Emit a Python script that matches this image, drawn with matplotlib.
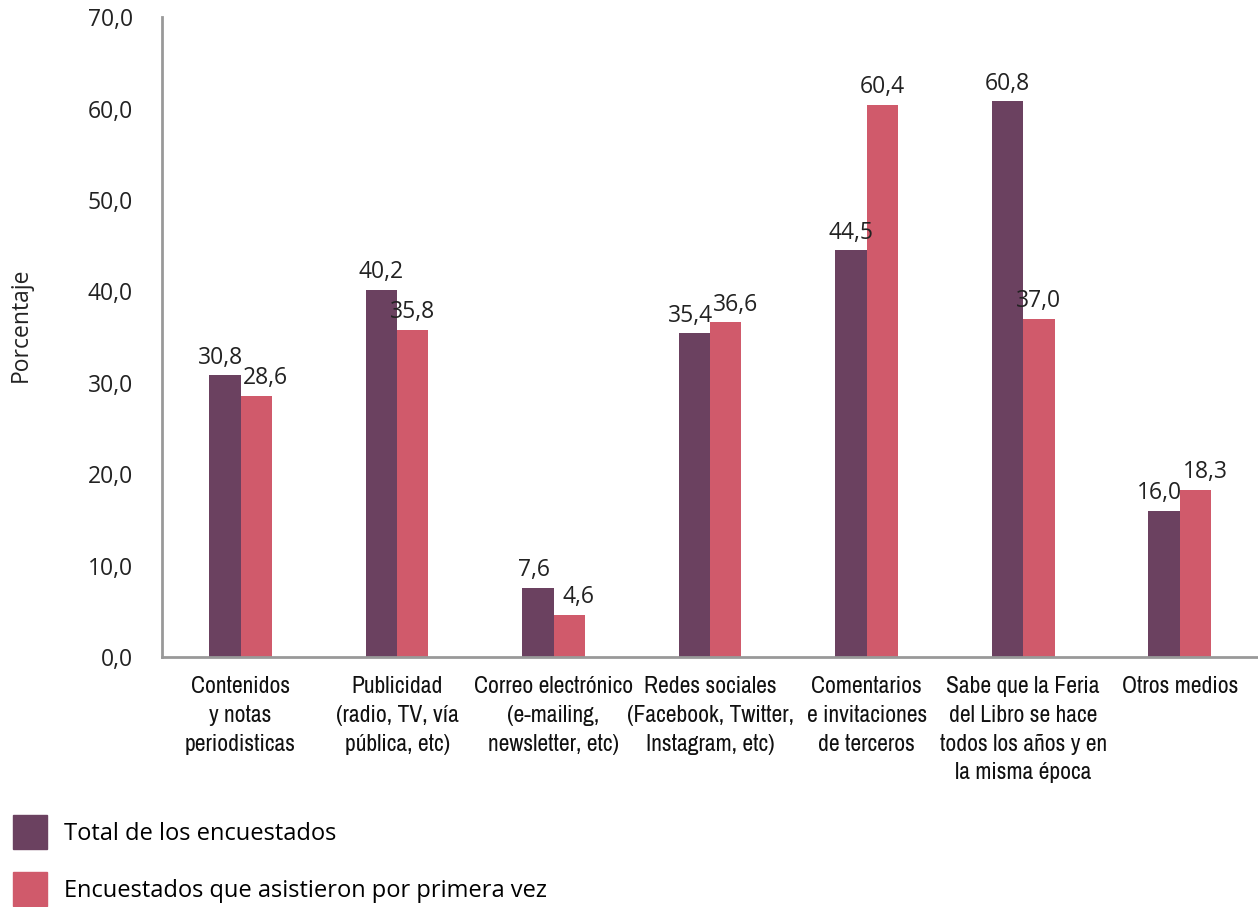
import numpy as np
import matplotlib.pyplot as plt
from matplotlib.patches import Patch
from matplotlib import font_manager

categorias = [
    "Contenidos\ny notas\nperiodisticas",
    "Publicidad\n(radio, TV, vía\npública, etc)",
    "Correo electrónico\n(e-mailing,\nnewsletter, etc)",
    "Redes sociales\n(Facebook, Twitter,\nInstagram, etc)",
    "Comentarios\ne invitaciones\nde terceros",
    "Sabe que la Feria\ndel Libro se hace\ntodos los años y en\nla misma época",
    "Otros medios",
]
total = [30.8, 40.2, 7.6, 35.4, 44.5, 60.8, 16.0]
primera_vez = [28.6, 35.8, 4.6, 36.6, 60.4, 37.0, 18.3]
series_nombres = ["Total de los encuestados", "Encuestados que asistieron por primera vez"]
yticks = [0, 10, 20, 30, 40, 50, 60, 70]

col_total = "#6b4160"
col_primera = "#d05a6b"
txt_font = ["Open Sans", "DejaVu Sans"]

# buscar una fuente condensada para las categorias
nombres = {(f.name, f.stretch) for f in font_manager.fontManager.ttflist}
cat_kw = {"family": ["DejaVu Sans"], "fontstretch": "condensed"}
for n, s in sorted(nombres):
    if "Narrow" in n or "Condensed" in n:
        cat_kw = {"family": [n, "DejaVu Sans"]}
        break

fig = plt.figure(figsize=(12.58, 9.07), dpi=100)
ax = fig.add_axes([0.129, 0.2756, 0.871, 0.7055])

x = np.arange(len(categorias))
w = 0.2
b1 = ax.bar(x - w / 2, total, w, color=col_total)
b2 = ax.bar(x + w / 2, primera_vez, w, color=col_primera)

fmt = lambda v: f"{v:.1f}".replace(".", ",")
for i in range(len(x)):
    # separar etiquetas cuando las dos barras tienen alturas parecidas
    cerca = abs(total[i] - primera_vez[i]) < 4
    for xi, v, dx in ((x[i] - w / 2, total[i], -3 if cerca else 0),
                      (x[i] + w / 2, primera_vez[i], 7 if cerca else 0)):
        ax.annotate(fmt(v), (xi, v), xytext=(dx, 4), textcoords="offset points",
                    ha="center", va="bottom", fontsize=16.5, family=txt_font,
                    color="#222222")

ax.set_xlim(-0.5, len(categorias) - 0.5)
ax.set_ylim(0, 70)
ax.set_yticks(yticks)
ax.set_yticklabels([fmt(v) for v in yticks],
                   fontsize=16.5, family=txt_font, color="#222222")
ax.set_xticks(x)
ax.set_xticklabels(categorias, fontsize=17, color="#111111",
                   linespacing=1.45, **cat_kw)
ax.tick_params(axis="y", length=0, pad=21)
ax.tick_params(axis="x", length=0, pad=14)

for s in ["top", "right"]:
    ax.spines[s].set_visible(False)
for s in ["left", "bottom"]:
    ax.spines[s].set_color("#999999")
    ax.spines[s].set_linewidth(2)

ax.set_ylabel("Porcentaje", fontsize=16.5, family=txt_font, color="#222222")
ax.yaxis.set_label_coords(-0.118, 0.52)

handles = [Patch(color=col_total), Patch(color=col_primera)]
fig.legend(handles, series_nombres, loc="upper left",
           bbox_to_anchor=(13 / 1258, 1 - 815 / 907), frameon=False,
           prop={"family": txt_font, "size": 17}, handlelength=1.45,
           handleheight=1.85, handletextpad=0.7, labelspacing=0.97,
           borderpad=0, borderaxespad=0)

fig.savefig("out.png", dpi=100)
